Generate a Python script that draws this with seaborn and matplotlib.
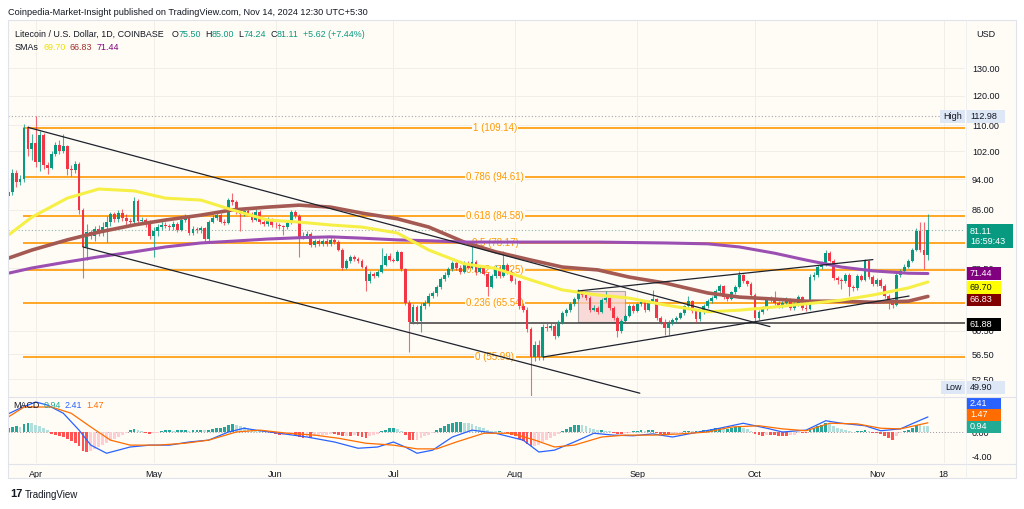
"""Litecoin / U.S. Dollar daily chart (TradingView style) redrawn with seaborn."""

from __future__ import annotations

import matplotlib

matplotlib.use("Agg")
import matplotlib.pyplot as plt
import numpy as np
import pandas as pd
import seaborn as sns
from matplotlib.patches import Rectangle
from matplotlib.ticker import NullFormatter, NullLocator

# day index: 0 = 2024-04-01; first candle 2024-03-25 (-7), last 2024-11-14 (227)
FIRST_DAY = -7
FIRST_OPEN = 89.5

closes = [
    90.5, 95.8, 93.2, 94.0, 109.1, 102.7, 104.5, 99.0, 106.9, 98.1,
    97.3, 101.3, 103.8, 102.0, 103.5, 97.0, 96.6, 98.3, 85.9, 77.2,
    80.6, 79.8, 81.3, 80.6, 81.9, 82.9, 84.9, 83.7, 85.2, 84.0,
    83.2, 83.0, 88.3, 83.2, 83.4, 82.9, 79.8, 80.9, 81.9, 82.4,
    82.1, 81.7, 82.6, 81.2, 83.6, 84.1, 80.5, 81.4, 81.0, 81.5,
    78.9, 83.1, 84.0, 84.8, 83.1, 82.8, 88.6, 88.0, 85.4, 85.0,
    85.8, 85.0, 83.6, 85.5, 83.0, 82.6, 83.6, 82.4, 82.2, 82.0,
    81.8, 82.8, 85.5, 84.5, 79.5, 79.8, 80.2, 77.6, 78.5, 77.8,
    78.5, 77.8, 78.8, 78.3, 76.6, 72.7, 74.0, 74.9, 74.6, 74.2,
    72.9, 69.8, 71.4, 71.0, 71.8, 73.3, 75.2, 74.4, 74.2, 76.1,
    72.3, 65.6, 62.0, 64.8, 62.2, 64.9, 65.6, 67.0, 67.4, 68.6,
    70.4, 71.2, 72.3, 73.6, 72.7, 71.8, 73.6, 72.7, 73.9, 71.8,
    72.7, 71.4, 68.7, 71.0, 72.7, 71.0, 73.3, 71.8, 70.0, 69.8,
    64.9, 64.3, 60.8, 56.0, 58.0, 56.0, 61.2, 61.0, 61.3, 59.6,
    62.0, 63.6, 64.3, 65.3, 66.4, 67.8, 67.2, 66.6, 64.3, 64.7,
    63.9, 66.2, 66.6, 64.7, 62.8, 60.4, 62.2, 63.2, 64.9, 64.1,
    65.3, 65.8, 64.3, 65.8, 66.3, 62.8, 62.1, 61.0, 61.9, 62.3,
    62.8, 63.6, 64.9, 65.9, 64.0, 62.5, 63.8, 64.9, 65.9, 66.6,
    67.8, 68.8, 66.8, 66.4, 67.6, 68.6, 71.2, 69.8, 69.2, 67.2,
    62.8, 63.8, 64.5, 66.2, 66.4, 65.5, 65.0, 65.6, 66.3, 64.7,
    65.3, 66.7, 64.7, 64.5, 70.8, 71.2, 72.9, 73.3, 75.9, 74.2,
    70.6, 70.2, 69.8, 71.2, 68.7, 68.4, 71.0, 70.2, 74.0, 70.8,
    69.2, 70.2, 68.9, 66.9, 65.8, 65.2, 71.2, 71.9, 72.9, 74.2,
    76.6, 80.9, 76.6, 75.5, 81.11,
]

highs = [
    91.8, 96.8, 96.5, 95.2, 110.6, 109.8, 107.2, 112.98, 108.2, 107.5,
    99.0, 102.0, 104.8, 105.5, 107.3, 104.0, 98.0, 99.2, 98.8, 86.5,
    82.5, 81.2, 82.0, 82.3, 83.0, 84.6, 85.6, 85.4, 86.0, 86.2,
    85.0, 84.0, 89.3, 88.9, 84.2, 84.0, 83.4, 81.8, 82.6, 83.3,
    83.1, 82.6, 83.2, 83.1, 84.4, 85.0, 84.5, 82.0, 81.9, 82.1,
    81.9, 83.4, 84.7, 85.4, 85.2, 83.8, 89.0, 90.3, 88.4, 85.9,
    86.6, 86.3, 85.4, 86.2, 86.0, 83.5, 84.3, 84.1, 82.9, 82.8,
    82.4, 83.3, 85.9, 86.0, 84.9, 80.6, 80.8, 80.6, 78.9, 79.0,
    79.0, 79.2, 79.5, 79.3, 78.7, 76.9, 74.6, 75.4, 75.3, 75.0,
    74.6, 73.2, 71.9, 71.8, 72.2, 76.9, 75.8, 75.8, 74.8, 76.6,
    76.4, 72.6, 66.2, 65.3, 65.2, 65.5, 66.1, 67.4, 67.9, 69.0,
    70.8, 71.7, 72.8, 74.2, 74.0, 73.3, 74.2, 74.0, 77.7, 74.3,
    73.1, 73.0, 71.8, 71.4, 73.2, 73.0, 76.3, 73.7, 72.2, 70.5,
    70.2, 65.6, 64.8, 61.2, 58.6, 58.8, 61.6, 61.9, 61.8, 61.8,
    62.3, 64.0, 64.7, 65.7, 66.8, 68.3, 68.0, 67.5, 66.9, 65.2,
    65.0, 66.6, 67.9, 66.8, 64.9, 63.1, 62.5, 63.5, 65.4, 65.3,
    65.6, 66.3, 66.0, 66.2, 68.0, 66.6, 63.2, 62.5, 62.3, 62.7,
    63.1, 63.9, 65.2, 67.0, 66.2, 64.3, 64.1, 65.3, 66.3, 67.0,
    68.2, 69.3, 69.0, 67.3, 67.9, 69.0, 72.0, 71.4, 70.2, 69.6,
    67.5, 64.2, 64.9, 66.6, 66.9, 67.8, 65.9, 66.0, 66.8, 66.6,
    65.7, 67.1, 67.0, 65.6, 71.3, 71.8, 73.3, 74.0, 76.6, 76.2,
    74.6, 71.0, 70.5, 71.6, 71.5, 69.1, 71.4, 71.3, 74.5, 74.4,
    71.2, 70.6, 70.5, 69.2, 67.3, 66.3, 71.6, 72.4, 73.4, 74.6,
    77.0, 81.6, 83.0, 83.0, 85.0,
]

lows = [
    86.5, 89.8, 92.0, 92.6, 93.2, 100.5, 99.5, 97.5, 96.2, 96.9,
    95.6, 96.8, 100.6, 101.2, 101.4, 95.2, 95.0, 95.9, 85.0, 70.5,
    74.4, 78.9, 78.6, 79.8, 79.6, 78.3, 82.1, 82.9, 83.0, 83.3,
    82.4, 82.2, 82.6, 82.8, 82.6, 81.9, 79.0, 74.9, 79.8, 81.2,
    81.5, 81.0, 81.0, 80.6, 80.8, 83.0, 80.0, 79.9, 80.4, 80.5,
    78.3, 78.6, 82.7, 83.5, 82.7, 82.3, 82.5, 87.2, 85.0, 80.8,
    84.5, 84.7, 83.0, 83.2, 82.6, 82.0, 82.1, 81.9, 81.6, 81.4,
    80.0, 81.4, 82.5, 84.0, 74.9, 79.0, 79.4, 77.2, 77.2, 77.3,
    77.4, 77.3, 77.5, 77.9, 76.2, 72.2, 72.3, 73.6, 74.1, 73.6,
    72.6, 67.9, 69.5, 70.6, 70.7, 71.5, 73.0, 74.0, 73.8, 74.0,
    71.9, 65.2, 56.9, 61.7, 61.6, 60.2, 64.5, 65.0, 66.6, 67.0,
    68.3, 70.0, 70.8, 71.9, 72.2, 71.3, 71.5, 72.3, 72.4, 71.2,
    71.5, 71.1, 67.0, 68.4, 70.6, 70.6, 70.8, 71.4, 69.6, 69.3,
    64.5, 63.8, 60.3, 49.9, 55.4, 55.6, 55.6, 60.4, 60.6, 59.1,
    59.4, 61.6, 63.2, 63.9, 65.0, 66.1, 66.8, 66.1, 63.8, 64.0,
    63.5, 63.6, 65.8, 64.3, 62.4, 59.3, 60.0, 61.8, 62.9, 63.7,
    63.8, 65.0, 63.9, 64.0, 65.5, 62.4, 61.7, 59.8, 59.8, 61.5,
    62.0, 62.5, 63.3, 64.6, 63.7, 62.1, 62.2, 63.5, 64.6, 65.5,
    66.3, 67.5, 66.4, 65.9, 66.1, 67.3, 68.4, 69.4, 68.9, 66.8,
    62.1, 62.4, 63.5, 64.2, 65.8, 65.1, 64.6, 64.6, 65.2, 64.3,
    64.3, 65.0, 64.3, 64.0, 64.2, 70.2, 70.8, 72.3, 73.0, 73.8,
    70.2, 69.3, 68.2, 69.4, 66.9, 67.9, 68.0, 69.8, 69.9, 70.4,
    68.8, 68.8, 68.5, 66.5, 64.5, 64.6, 64.9, 70.7, 71.5, 72.5,
    73.9, 76.2, 76.0, 72.3, 74.24,
]

# moving averages (yellow, brown, purple)
sma_days = [-7, -1, 8, 16, 25, 33, 42, 50, 59, 67, 75, 83, 92, 100, 109,
            117, 126, 134, 143, 151, 160, 171, 179, 188, 196, 205, 213, 222, 227]
sma_yellow = [79.9, 84.2, 89.0, 91.4, 90.9, 89.0, 88.5, 86.0, 83.5, 83.0, 82.3, 81.8, 80.4, 76.5, 73.5,
              72.5, 70.1, 68.1, 67.1, 66.5, 65.2, 63.9, 64.2, 64.8, 65.4, 66.1, 67.1, 68.5, 69.70]
sma_brown = [74.7, 76.5, 78.8, 80.6, 82.3, 83.5, 84.7, 86.0, 86.7, 87.2, 86.7, 85.2, 83.8, 81.8, 78.3,
             76.1, 74.3, 72.8, 72.2, 70.7, 69.5, 67.5, 66.7, 66.3, 65.9, 65.9, 65.7, 65.9, 66.83]
sma_purple = [71.5, 72.6, 73.9, 75.0, 76.1, 77.2, 78.1, 78.5, 79.0, 79.3, 79.5, 79.2, 78.8, 78.6, 78.3,
              78.3, 78.3, 78.3, 78.3, 78.2, 78.1, 77.9, 77.2, 75.8, 74.3, 72.8, 72.0, 71.5, 71.44]

fib_levels = [109.14, 94.61, 84.58, 78.17, 72.25, 65.54, 55.99]
fib_labels = ["1 (109.14)", "0.786 (94.61)", "0.618 (84.58)", "0.5 (78.17)",
              "0.382 (72.25)", "0.236 (65.54)", "0 (55.99)"]
fib_start_day = -3.3

# drawn lines: (day_a, day_b), (price_a, price_b)
channel_top = ([-2.0, 186.8], [109.4, 61.2])
channel_bottom = ([12.0, 153.7], [77.2, 50.4])
wedge_lower = ([129.1, 222.2], [56.0, 66.9])
wedge_upper = ([138.0, 213.0], [67.9, 74.4])
support_level = 61.88
support_start_day = 95.3
box_days = [138.0, 150.0]
box_prices = [62.1, 67.8]

# 78.50 and 66.50 sit under the 81.11 / 66.83 boxes in the original, so they are left out
price_ticks = [52.5, 56.5, 60.5, 72.5, 86, 94, 102, 110, 120, 130]

# MACD panel
macd_hist = [
    0.6, 0.8, 0.9, 0.8, 1.3, 1.5, 1.4, 1.2, 1.0, 0.6,
    0.3, -0.3, -0.5, -0.6, -0.8, -1.1, -1.4, -1.7, -2.3, -3.0,
    -3.2, -3.1, -2.7, -2.4, -2.0, -1.7, -1.4, -1.1, -0.8, -0.5,
    -0.2, 0.3, 0.5, 0.3, 0.1, -0.2, -0.3, -0.2, -0.1, 0.2,
    0.3, 0.3, 0.2, 0.3, 0.3, 0.4, 0.2, 0.3, 0.3, 0.4,
    0.3, 0.4, 0.5, 0.6, 0.7, 0.8, 1.2, 1.3, 1.1, 0.9,
    0.8, 0.6, 0.5, 0.4, 0.3, 0.2, 0.1, -0.2, -0.3, -0.5,
    -0.4, -0.3, -0.2, -0.4, -0.8, -0.9, -0.8, -0.9, -0.7, -0.6,
    -0.5, -0.4, -0.3, -0.3, -0.4, -0.7, -0.6, -0.6, -0.5, -0.6,
    -0.8, -0.9, -0.7, -0.5, -0.3, 0.1, 0.4, 0.6, 0.6, 0.5,
    0.2, -0.5, -1.2, -1.3, -1.2, -1.0, -0.7, -0.4, -0.1, 0.3,
    0.7, 1.0, 1.3, 1.5, 1.6, 1.6, 1.5, 1.4, 1.3, 1.0,
    0.8, 0.6, 0.3, 0.2, 0.1, 0.1, 0.0, -0.2, -0.4, -0.7,
    -1.1, -1.5, -1.9, -2.3, -2.2, -2.1, -1.6, -1.3, -1.0, -0.7,
    -0.3, 0.1, 0.5, 0.8, 1.1, 1.2, 1.1, 0.9, 0.6, 0.5,
    0.3, 0.3, 0.2, 0.1, -0.1, -0.3, -0.3, -0.2, -0.1, 0.1,
    0.2, 0.3, 0.2, 0.3, 0.3, -0.1, -0.3, -0.4, -0.4, -0.3,
    -0.2, -0.1, 0.1, 0.2, 0.1, 0.1, 0.2, 0.3, 0.4, 0.5,
    0.6, 0.6, 0.5, 0.5, 0.6, 0.8, 0.9, 0.7, 0.5, 0.2,
    -0.3, -0.5, -0.6, -0.5, -0.5, -0.5, -0.6, -0.6, -0.6, -0.5,
    -0.4, -0.2, -0.2, -0.2, 0.3, 0.6, 0.9, 1.1, 1.4, 1.3,
    0.9, 0.7, 0.5, 0.4, 0.1, 0.0, 0.1, 0.1, 0.3, 0.1,
    -0.1, -0.1, -0.3, -0.6, -1.0, -1.2, -0.7, -0.2, 0.1, 0.4,
    0.7, 1.2, 1.1, 1.0, 0.94,
]
macd_days = [-7, -4, 0, 3, 7, 11, 14, 18, 21, 24, 29, 34, 39, 44, 49, 53, 57, 62, 69, 76, 82, 87,
             91, 94, 97, 101, 106, 111, 117, 124, 128, 132, 137, 142, 147, 152, 157, 162, 167,
             174, 180, 186, 190, 196, 201, 205, 211, 215, 220, 224, 227]
macd_line = [2.9, 3.8, 4.8, 4.3, 3.0, 0.3, -2.1, -3.4, -2.9, -2.4, -2.1, -2.1, -1.6, -1.3, 0.0, 0.6,
             0.2, -0.2, -0.8, -1.6, -2.6, -2.4, -1.6, -2.4, -3.4, -2.9, -0.8, 0.3, -0.2, -1.3, -3.2,
             -2.9, -1.6, -0.2, -0.5, -0.6, -0.3, -0.8, -0.2, 0.6, 1.4, 0.6, 0.0, 0.3, 1.8, 1.4, 1.0,
             0.2, 0.5, 1.6, 2.41]
signal_days = [-7, -3, 4, 9, 14, 19, 24, 31, 38, 44, 51, 57, 64, 71, 77, 84, 91, 97, 102, 107, 114,
               121, 127, 132, 137, 144, 150, 157, 164, 171, 177, 184, 190, 196, 202, 209, 215, 220, 227]
signal_line = [2.4, 4.0, 4.0, 3.0, 0.8, -1.3, -2.1, -2.1, -1.8, -1.3, 0.0, 0.3, -0.2, -0.5, -1.0,
               -1.8, -2.1, -2.7, -2.7, -1.6, -0.2, -0.2, -1.3, -2.4, -2.1, -0.8, -0.5, -0.5, -0.3,
               0.0, 0.8, 1.0, 0.5, 0.2, 1.4, 1.3, 0.6, 0.5, 1.47]

month_days = [0, 30, 61, 91, 122, 153, 183, 214, 231]
month_labels = ["Apr", "May", "Jun", "Jul", "Aug", "Sep", "Oct", "Nov", "18"]

# layout (pixels of the 1024x509 output)
W, H = 1024, 509
DAY0_PX, PX_PER_DAY = 35.8, 3.93
PANE_L, PANE_R = 8, 965
PRICE_TOP, PRICE_BOT = 20, 396
MACD_TOP, MACD_BOT = 397, 463
X_LEFT = (PANE_L - DAY0_PX) / PX_PER_DAY
X_RIGHT = (PANE_R - DAY0_PX) / PX_PER_DAY
PRICE_MIN = 56.5 * np.exp((354 - PRICE_BOT) / 343)
PRICE_MAX = 56.5 * np.exp((354 - PRICE_TOP) / 343)

BG = "#fffcf6"
GRID = "#f1eee7"
TEXT = "#131722"
GREEN = "#089981"
RED = "#f23645"
ORANGE = "#ff9800"


def build_candles() -> pd.DataFrame:
    close = np.array(closes)
    opens = np.concatenate([[FIRST_OPEN], close[:-1]])
    return pd.DataFrame({
        "day": np.arange(FIRST_DAY, FIRST_DAY + len(close)),
        "open": opens, "high": highs, "low": lows, "close": close,
    })


def axes_rect(top: float, bottom: float) -> list[float]:
    return [PANE_L / W, 1 - bottom / H, (PANE_R - PANE_L) / W, (bottom - top) / H]


def style_axis(ax) -> None:
    ax.set_facecolor("none")
    ax.set_xlim(X_LEFT, X_RIGHT)
    ax.yaxis.tick_right()
    ax.tick_params(axis="y", length=0, pad=5, labelsize=6.5, labelcolor=TEXT)
    ax.set_xticks(month_days)
    ax.grid(True, color=GRID, lw=0.7)
    ax.set_axisbelow(True)
    for s in ax.spines.values():
        s.set_visible(False)


def draw_price(ax, df: pd.DataFrame) -> None:
    ax.set_yscale("log")
    style_axis(ax)
    ax.set_ylim(PRICE_MIN, PRICE_MAX)
    ax.set_yticks(price_ticks, labels=[f"{t:.2f}" for t in price_ticks])
    ax.yaxis.set_minor_locator(NullLocator())
    ax.yaxis.set_minor_formatter(NullFormatter())
    ax.tick_params(axis="x", length=0, labelbottom=False)

    # fibonacci retracement
    ax.hlines(fib_levels, fib_start_day, X_RIGHT, color=ORANGE, lw=1.2, zorder=1)
    mid = (495 - DAY0_PX) / PX_PER_DAY
    for lvl, lab in zip(fib_levels, fib_labels):
        ax.text(mid, lvl, lab, color=ORANGE, fontsize=7, ha="center", va="center", zorder=1.5,
                bbox=dict(fc=BG, ec="none", pad=0.8))

    ax.axhline(112.98, color="#a3a6ad", ls=(0, (1, 2)), lw=0.8, zorder=1)
    ax.axhline(81.11, color="#8fb3aa", ls=(0, (1, 2)), lw=0.8, zorder=1)

    ax.add_patch(Rectangle((box_days[0], box_prices[0]), box_days[1] - box_days[0],
                           box_prices[1] - box_prices[0], fc="#f6cfcf", ec="#8f8f8f",
                           lw=0.8, alpha=0.75, zorder=1.6))
    ax.hlines(support_level, support_start_day, X_RIGHT, color="#3c3c3c", lw=1.1, zorder=1.7)

    # candles
    up = df["close"] >= df["open"]
    colors = np.where(up, GREEN, RED)
    ax.vlines(df["day"], df["low"], df["high"], colors=colors, lw=0.8, alpha=0.75, zorder=3)
    bottom = df[["open", "close"]].min(axis=1)
    height = (df["close"] - df["open"]).abs().clip(lower=0.15)
    ax.bar(df["day"], height, bottom=bottom, width=0.72, color=colors, lw=0, zorder=3.1)

    for vals, col, lw in [(sma_brown, "#a45a52", 2.6), (sma_purple, "#9c4fb2", 2.2),
                          (sma_yellow, "#f6ef45", 2.2)]:
        sns.lineplot(x=sma_days, y=vals, ax=ax, color=col, lw=lw, zorder=5, legend=False)

    for xs, ys in [channel_top, channel_bottom, wedge_lower, wedge_upper]:
        ax.plot(xs, ys, color="#1e222d", lw=0.9, zorder=6)


def hist_colors(vals: list[float]) -> list[str]:
    out, prev = [], 0.0
    for v in vals:
        if v >= 0:
            out.append("#26a69a" if v >= prev else "#b2dfdb")
        else:
            out.append("#ff5252" if v <= prev else "#ffcdd2")
        prev = v
    return out


def draw_macd(ax) -> None:
    style_axis(ax)
    ax.set_ylim(-(MACD_BOT - 432) / 6.25, (432 - MACD_TOP) / 6.25)
    ax.set_yticks([0, -4], labels=["0.00", "-4.00"])
    ax.set_xticks(month_days, labels=month_labels)
    ax.tick_params(axis="x", length=0, pad=5, labelsize=6.5, labelcolor=TEXT)
    ax.grid(False, axis="y")
    days = np.arange(FIRST_DAY, FIRST_DAY + len(macd_hist))
    ax.axhline(0, color="#9598a1", ls=(0, (1, 2)), lw=0.7, zorder=1)
    ax.bar(days, macd_hist, width=0.72, color=hist_colors(macd_hist), lw=0, zorder=2)
    sns.lineplot(x=macd_days, y=macd_line, ax=ax, color="#2962ff", lw=0.9, zorder=3, legend=False)
    sns.lineplot(x=signal_days, y=signal_line, ax=ax, color="#ff6d00", lw=0.9, zorder=3, legend=False)
    ax.set_xlabel("")
    ax.set_ylabel("")


def put(ov, x, y, s, color=TEXT, size=6.5, **kw):
    return ov.text(x, y, s, color=color, fontsize=size, va="center", **kw)


def put_row(ov, x, y, pieces, size=6.4):
    """Write coloured pieces one after another; gap is in points after each piece."""
    prev = None
    for s, color, gap in pieces:
        if prev is None:
            prev = put(ov, x, y, s, color=color, size=size)
        else:
            prev = ov.annotate(s, xy=(1, 0.5), xycoords=prev, xytext=(gap, 0),
                               textcoords="offset points", va="center", ha="left",
                               color=color, fontsize=size)


def label_box(ov, y0, y1, fc, s, tc="white", x0=966, x1=1001) -> None:
    ov.add_patch(Rectangle((x0, y0), x1 - x0, y1 - y0, fc=fc, ec="none"))
    put(ov, x0 + 4, (y0 + y1) / 2, s, color=tc)


def draw_overlay(ov) -> None:
    ov.set_xlim(0, W)
    ov.set_ylim(H, 0)
    ov.axis("off")

    # frame and separators
    ov.add_patch(Rectangle((PANE_L, PRICE_TOP), 1016 - PANE_L, 478 - PRICE_TOP,
                           fc="none", ec="#e0e3eb", lw=0.8))
    ov.plot([PANE_L, 1016], [396.5, 396.5], color="#e0e3eb", lw=0.8)
    ov.plot([PANE_L, 1016], [463.5, 463.5], color="#e0e3eb", lw=0.8)
    ov.plot([965.5, 965.5], [PRICE_TOP, 478], color="#eceef2", lw=0.6)

    put(ov, 8, 12, "Coinpedia-Market-Insight published on TradingView.com, Nov 14, 2024 12:30 UTC+5:30",
        size=6.6)

    # legend rows
    put(ov, 15, 34, "Litecoin / U.S. Dollar, 1D, COINBASE", size=6.4)
    put_row(ov, 172, 34, [("O", TEXT, 0), ("75.50", GREEN, 0), ("H", TEXT, 3), ("85.00", GREEN, 0),
                          ("L", TEXT, 3), ("74.24", GREEN, 0), ("C", TEXT, 3), ("81.11", GREEN, 0),
                          ("+5.62 (+7.44%)", GREEN, 3)])
    put_row(ov, 15, 47, [("SMAs", TEXT, 0), ("69.70", "#eee000", 3), ("66.83", "#a0302f", 3),
                         ("71.44", "#800080", 3)])
    put_row(ov, 13, 405.5, [("MACD", TEXT, 0), ("0.94", "#22ab94", 3), ("2.41", "#2962ff", 3),
                            ("1.47", "#ff6d00", 3)])

    put(ov, 976, 34, "USD", size=6.5)

    # right-hand price labels
    ov.add_patch(Rectangle((940, 109.5), 25, 13, fc="#dde7f6", ec="none"))
    put(ov, 952.5, 116, "High", ha="center")
    label_box(ov, 109.5, 122.5, "#dde7f6", "112.98", tc=TEXT, x1=1005)
    ov.add_patch(Rectangle((941, 381), 24, 13, fc="#dde7f6", ec="none"))
    put(ov, 953, 387.5, "Low", ha="center")
    label_box(ov, 381, 394, "#dde7f6", "49.90", tc=TEXT, x1=1005)

    ov.add_patch(Rectangle((966, 224), 47, 24, fc=GREEN, ec="none"))
    put(ov, 970, 231, "81.11", color="white")
    put(ov, 970, 242, "16:59:43", color="white")
    label_box(ov, 267, 280, "#800080", "71.44")
    label_box(ov, 281, 293.5, "#ffff00", "69.70", tc=TEXT)
    label_box(ov, 294, 306, "#800000", "66.83")
    label_box(ov, 318, 331, "#000000", "61.88")
    label_box(ov, 397.5, 409, "#2962ff", "2.41")
    label_box(ov, 409, 420.5, "#ff6d00", "1.47")
    label_box(ov, 420.5, 432.5, "#22ab94", "0.94")

    # footer logo
    put(ov, 10, 494, "17", size=8, weight="bold")
    put(ov, 25, 494.5, "TradingView", size=7)


def main() -> None:
    sns.set_theme(style="white")
    plt.rcParams["font.family"] = ["Liberation Sans", "DejaVu Sans"]

    fig = plt.figure(figsize=(W / 100, H / 100), dpi=100, facecolor="white")
    base = fig.add_axes([0, 0, 1, 1], zorder=-5)
    base.set_xlim(0, W)
    base.set_ylim(H, 0)
    base.axis("off")
    base.add_patch(Rectangle((PANE_L, PRICE_TOP), 1016 - PANE_L, 478 - PRICE_TOP, fc=BG, ec="none"))

    df = build_candles()
    ax_price = fig.add_axes(axes_rect(PRICE_TOP, PRICE_BOT))
    draw_price(ax_price, df)
    ax_macd = fig.add_axes(axes_rect(MACD_TOP, MACD_BOT))
    draw_macd(ax_macd)

    ov = fig.add_axes([0, 0, 1, 1], zorder=10)
    draw_overlay(ov)

    fig.savefig("out.png", dpi=100, facecolor="white")
    plt.close(fig)


if __name__ == "__main__":
    main()
